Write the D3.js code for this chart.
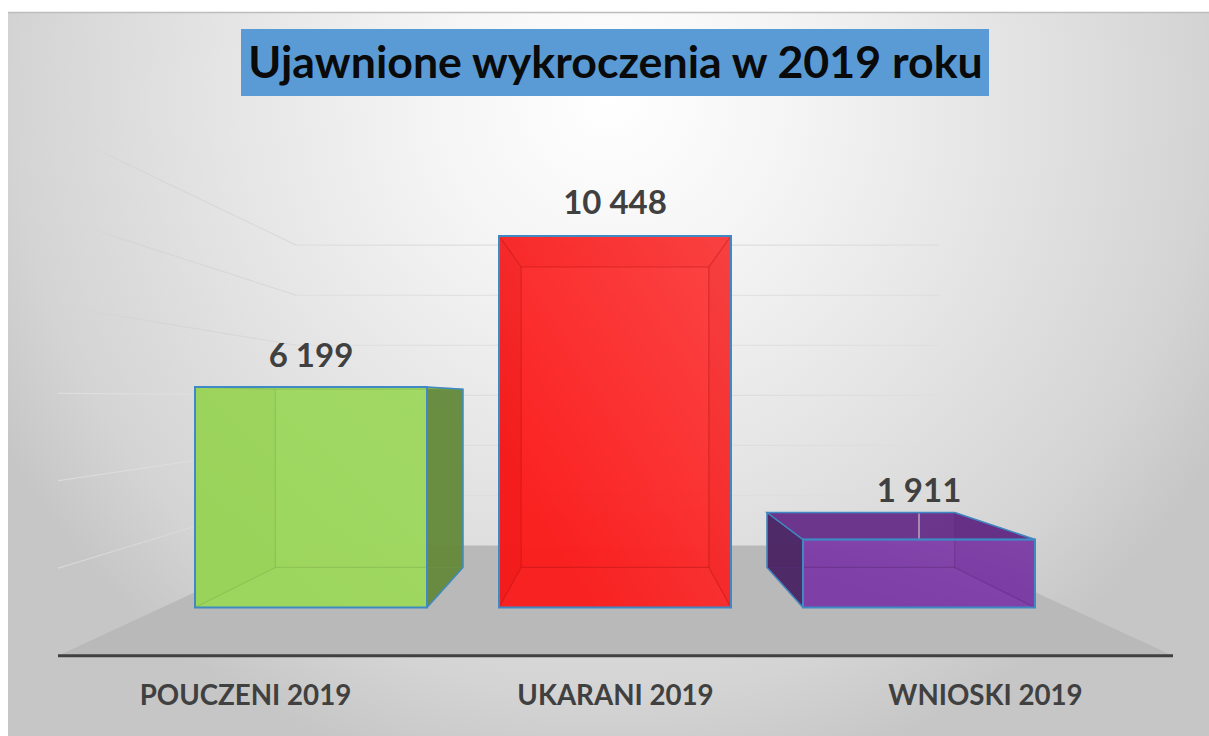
<!DOCTYPE html>
<html><head><meta charset="utf-8">
<script src="https://cdn.jsdelivr.net/npm/d3@7/dist/d3.min.js"></script>
<style>html,body{margin:0;padding:0;background:#fff;overflow:hidden}svg{display:block}</style>
</head><body><div id="c"></div>
<script>
const chartTitle = "Ujawnione wykroczenia w 2019 roku";
const categories = ["POUCZENI 2019", "UKARANI 2019", "WNIOSKI 2019"];
const values = [6199, 10448, 1911];
const gridTicks = [2000, 4000, 6000, 8000, 10000, 12000];
const barColors = ["#9cd65c", "#fb1c1c", "#7c3aa6"];
const sheenStrength = [0.2, 0.8, 0.25];

const W = 1209, H = 736;
const svg = d3.select("#c").append("svg").attr("width", W).attr("height", H);
const defs = svg.append("defs");

// background
const bg = defs.append("radialGradient").attr("id", "bg").attr("gradientUnits", "userSpaceOnUse")
  .attr("cx", 610).attr("cy", 100).attr("r", 700);
[[0, "#ffffff"], [0.25, "#f5f5f5"], [0.55, "#e5e5e5"], [0.85, "#d4d4d4"], [1, "#c6c6c6"]].forEach(s => bg.append("stop").attr("offset", s[0]).attr("stop-color", s[1]));
svg.append("rect").attr("x", 8).attr("y", 12).attr("width", W - 8).attr("height", H - 12).attr("fill", "url(#bg)");
svg.append("line").attr("x1", 8).attr("x2", W).attr("y1", 12.5).attr("y2", 12.5).attr("stroke", "#bdbdbd").attr("stroke-width", 1.5);

// perspective: everything scales around a vanishing point
const vp = { x: 615, y: 398 };
const depthBack = 0.572, depthBarFront = 0.813, depthBarRear = 0.6575;
const x = d3.scaleBand().domain(categories).range([159, 1071]).paddingInner(72 / 304).paddingOuter(36 / 304);
const y = d3.scaleLinear().domain([0, 10448]).range([607.5, 236]);
// px/py give the on-screen place of a front-plane bar coordinate at a given depth
const px = (sx, d) => vp.x + (sx - vp.x) * d / depthBarFront;
const py = (v, d) => vp.y + (y(v) - vp.y) * d / depthBarFront;
const floorLeft = 58, floorRight = 1173;
const wallX = d => vp.x + (floorLeft - vp.x) * d;
const wallXR = d => vp.x + (floorRight - vp.x) * d;
const poly = pts => "M" + pts.map(p => p.join(",")).join("L") + "Z";

// floor
svg.append("path").attr("d", poly([[wallX(1), py(0, 1)], [wallX(depthBack), py(0, depthBack)], [wallXR(depthBack), py(0, depthBack)], [wallXR(1), py(0, 1)]]))
  .attr("fill", "#b9b9b9");

// gridlines on back wall and fading on side wall
const fade = defs.append("linearGradient").attr("id", "fade").attr("x1", 0).attr("x2", 1).attr("y1", 0).attr("y2", 0);
fade.append("stop").attr("offset", 0).attr("stop-color", "#d4d4d4").attr("stop-opacity", 0);
fade.append("stop").attr("offset", 0.25).attr("stop-color", "#d2d2d2").attr("stop-opacity", 0.7);
fade.append("stop").attr("offset", 1).attr("stop-color", "#d9d9d9").attr("stop-opacity", 1);
const whiteFade = defs.append("linearGradient").attr("id", "whiteFade").attr("x1", 0).attr("x2", 1).attr("y1", 0).attr("y2", 0);
whiteFade.append("stop").attr("offset", 0).attr("stop-color", "#ebebeb").attr("stop-opacity", 0.55);
whiteFade.append("stop").attr("offset", 0.6).attr("stop-color", "#ebebeb").attr("stop-opacity", 0.25);
whiteFade.append("stop").attr("offset", 1).attr("stop-color", "#ebebeb").attr("stop-opacity", 0);
const sheen = defs.append("linearGradient").attr("id", "sheen").attr("x1", 0).attr("x2", 1).attr("y1", 1).attr("y2", 0);
sheen.append("stop").attr("offset", 0.2).attr("stop-color", "#fff").attr("stop-opacity", 0);
sheen.append("stop").attr("offset", 1).attr("stop-color", "#fff").attr("stop-opacity", 0.2);

const grid = svg.append("g");
grid.selectAll(".back").data(gridTicks).join("line").attr("class", "back")
  .attr("x1", wallX(depthBack)).attr("x2", wallXR(depthBack) + 5)
  .attr("y1", d => py(d, depthBack)).attr("y2", d => py(d, depthBack))
  .attr("stroke", "#dedede").attr("stroke-width", 1.2);
grid.selectAll(".sideLong").data(gridTicks).join("path").attr("class", "sideLong")
  .attr("d", d => {
    const far = d >= 8000 ? 0.98 : 1;
    return `M${wallX(far)},${py(d, far)}L${wallX(depthBack)},${py(d, depthBack)}`;
  })
  .attr("fill", "none").attr("stroke-width", 1.2)
  .attr("stroke", d => d >= 8000 ? "url(#fade)" : "url(#whiteFade)");

// bars, drawn rear faces first
const bars = svg.append("g").selectAll("g").data(categories).join("g");
const edge = "#3f8ac4";
const shade = (c, k) => d3.color(c).darker(k).formatHex();
bars.each(function (cat, i) {
  const g = d3.select(this), v = values[i], col = barColors[i];
  const l = x(cat), r = l + x.bandwidth();
  const F = (sx, val) => [px(sx, depthBarFront), py(val, depthBarFront)];
  const R = (sx, val) => [px(sx, depthBarRear), py(val, depthBarRear)];
  const line = pts => "M" + pts.map(p => p.join(",")).join("L");
  const faces = [
    { pts: [R(l, 0), R(r, 0), R(r, v), R(l, v)], c: col, o: 0.6 },
    { pts: [F(l, 0), F(r, 0), R(r, 0), R(l, 0)], c: col, o: 0.45 },
    { pts: [F(l, 0), F(l, v), R(l, v), R(l, 0)], c: shade(col, 1.6), o: 0.9 },
    { pts: [F(r, 0), F(r, v), R(r, v), R(r, 0)], c: shade(col, 1.35), o: 0.9 },
    { pts: [F(l, v), F(r, v), R(r, v), R(l, v)], c: shade(col, 0.55), o: 0.92 },
  ];
  faces.forEach(f => g.append("path").attr("d", poly(f.pts)).attr("fill", f.c).attr("fill-opacity", f.o));
  const front = poly([F(l, 0), F(r, 0), F(r, v), F(l, v)]);
  g.append("path").attr("d", front).attr("fill", col).attr("fill-opacity", i === 0 ? 0.96 : 0.93);
  g.append("path").attr("d", front).attr("fill", "url(#sheen)").attr("opacity", sheenStrength[i]);
  // rear rectangle and corner edges showing through the front
  const inner = g.append("g").attr("fill", "none").attr("stroke", shade(col, 0.9)).attr("stroke-opacity", i === 0 ? 0.3 : 0.45).attr("stroke-width", 1.2);
  inner.append("path").attr("d", poly([R(l, 0), R(r, 0), R(r, v), R(l, v)]));
  [[l, 0], [r, 0], [l, v], [r, v]].forEach(c => inner.append("path").attr("d", line([F(c[0], c[1]), R(c[0], c[1])])));
  // outer visible edges in blue
  g.append("path").attr("d", front).attr("fill", "none").attr("stroke", edge).attr("stroke-width", 2);
  if (i === 0) g.append("path").attr("d", line([F(r, v), R(r, v), R(r, 0), F(r, 0)])).attr("fill", "none").attr("stroke", edge).attr("stroke-width", 1.5);
  if (i === 2) {
    g.append("path").attr("d", poly([F(l, v), R(l, v), R(r, v), F(r, v)])).attr("fill", "none").attr("stroke", edge).attr("stroke-width", 1.5);
    g.append("path").attr("d", line([R(l, v), R(l, 0), F(l, 0)])).attr("fill", "none").attr("stroke", edge).attr("stroke-width", 1.5);
  }
});

// leader of third label
const fmt = d3.formatLocale({ thousands: " ", grouping: [3], decimal: ",", currency: ["", ""] }).format(",d");
const labelLift = [20, 22, 38];
const bx = c => x(c) + x.bandwidth() / 2;
svg.append("line").attr("x1", bx(categories[2])).attr("x2", bx(categories[2]))
  .attr("y1", py(values[2], depthBarRear) + 1).attr("y2", py(values[2], depthBarFront) - 1)
  .attr("stroke", "#b8a8c2").attr("stroke-width", 1.5);

// floor front line
svg.append("line").attr("x1", floorLeft).attr("x2", floorRight).attr("y1", py(0, 1)).attr("y2", py(0, 1))
  .attr("stroke", "#404040").attr("stroke-width", 3);

const font = "Lato, 'Open Sans', sans-serif";
svg.append("g").selectAll("text").data(categories).join("text")
  .attr("x", bx).attr("y", (c, i) => y(values[i]) - labelLift[i])
  .attr("text-anchor", "middle").attr("font-family", font).attr("font-weight", 700)
  .attr("font-size", 33).attr("fill", "#404040")
  .text((c, i) => fmt(values[i]));

// category axis
const axisX = d3.scalePoint().domain(categories).range([245, 985]);
const ax = svg.append("g").attr("transform", "translate(0,685.5)").call(d3.axisBottom(axisX).tickSize(0).tickPadding(0));
ax.select(".domain").remove();
ax.selectAll("text").attr("font-family", font).attr("font-weight", 700).attr("font-size", 27.7).attr("fill", "#404040").attr("dy", "0.71em");

// title
svg.append("rect").attr("x", 241).attr("y", 29).attr("width", 748).attr("height", 67).attr("fill", "#5b9bd5");
svg.append("text").attr("x", 615.5).attr("y", 78).attr("text-anchor", "middle").attr("font-family", font).attr("font-weight", 700)
  .attr("font-size", 44.7).attr("fill", "#0a0a0a").text(chartTitle);
</script></body></html>
